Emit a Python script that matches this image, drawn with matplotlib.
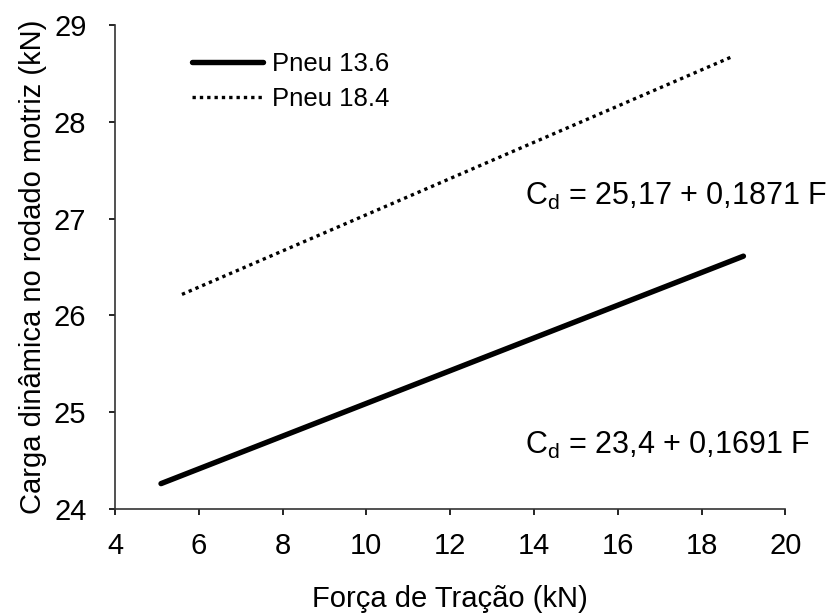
import numpy as np
import matplotlib
matplotlib.use("Agg")
import matplotlib.pyplot as plt

plt.rcParams['font.family'] = ['Liberation Sans', 'DejaVu Sans']
plt.rcParams['mathtext.fontset'] = 'custom'
plt.rcParams['mathtext.rm'] = 'Liberation Sans'
plt.rcParams['mathtext.it'] = 'Liberation Sans:italic'

# Fitted regressions: Cd = a + b*F
series_names = ["Pneu 13.6", "Pneu 18.4"]
intercepts = [23.4, 25.17]
slopes = [0.1691, 0.1871]
f_ranges = [(5.1, 19.0), (5.6, 18.7)]
equation_labels = [r"C$_\mathrm{d}$ = 23,4 + 0,1691 F",
                   r"C$_\mathrm{d}$ = 25,17 + 0,1871 F"]
x_ticks = [4, 6, 8, 10, 12, 14, 16, 18, 20]
y_ticks = [24, 25, 26, 27, 28, 29]

fig = plt.figure(figsize=(8.39, 6.14), dpi=100)
ax = fig.add_axes([0.137, 0.171, 0.799, 0.788])

styles = [dict(color='black', lw=3.9, linestyle='-', solid_capstyle='round'),
          dict(color='black', lw=2.4, linestyle=(0, (1, 1.2)))]

for name, a, b, (f0, f1), st in zip(series_names, intercepts, slopes, f_ranges, styles):
    f = np.array([f0, f1])
    ax.plot(f, a + b * f, label=name, **st)

ax.set_xlim(4, 20)
ax.set_ylim(24, 29)
ax.set_xticks(x_ticks)
ax.set_yticks(y_ticks)
ax.tick_params(direction='out', length=4.5, width=1.2, labelsize=21, colors='black')
ax.tick_params(axis='x', pad=12)
ax.tick_params(axis='y', pad=16)
for s in ['top', 'right']:
    ax.spines[s].set_visible(False)
for s in ['left', 'bottom']:
    ax.spines[s].set_linewidth(1.2)
    ax.spines[s].set_color('#333333')

ax.set_xlabel("Força de Tração (kN)", fontsize=21, labelpad=18)
ax.set_ylabel("Carga dinâmica no rodado motriz (kN)", fontsize=21, labelpad=5)

ax.text(13.78, 24.57, equation_labels[0], fontsize=22, va='baseline', ha='left')
ax.text(13.78, 27.14, equation_labels[1], fontsize=22, va='baseline', ha='left')

leg = ax.legend(loc='upper left', bbox_to_anchor=(0.1, 0.965), frameon=False,
                fontsize=18.5, handlelength=2.75, handletextpad=0.35, labelspacing=0.42,
                borderaxespad=0.0)

fig.savefig("out.png", dpi=100)
